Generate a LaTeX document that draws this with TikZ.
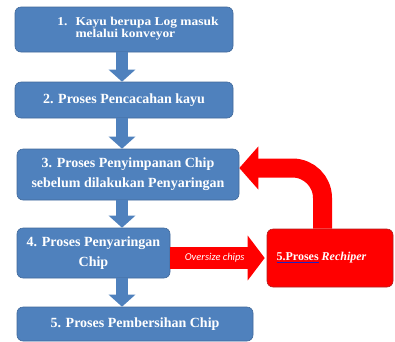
\documentclass[tikz,border=0pt]{standalone}
\usepackage{fontspec}
\setmainfont{Liberation Serif}
\newfontfamily\widefont[FakeStretch=1.12]{Liberation Serif}
\newfontfamily\calibri{Carlito}
\usetikzlibrary{arrows.meta,positioning}

\definecolor{boxblue}{HTML}{4F81BD}
\definecolor{boxblueline}{HTML}{41699A}
\definecolor{boxred}{HTML}{FF0000}
\definecolor{boxredline}{HTML}{B02020}
\definecolor{squiggle}{HTML}{2020C0}

\begin{document}
\begin{tikzpicture}[x=1pt, y=-1pt]
\tikzset{
    mybox/.style={rectangle, rounded corners=6pt, draw=boxblueline, fill=boxblue, line width=0.6pt, text=white, font=\bfseries\fontsize{14}{20}\selectfont, align=center, inner sep=0pt},
    myredbox/.style={mybox, draw=boxredline, fill=boxred, font=\bfseries\fontsize{12}{14}\selectfont},
    myarrow/.style={-{Triangle[length=12pt, width=26pt]}, line width=12pt, draw=boxblue},
    myredarrow/.style={line width=#1, draw=boxred},
    mylabel/.style={text=white, font=\calibri\itshape\fontsize{10.5}{12}\selectfont}
}
\useasboundingbox (0,0) rectangle (395,341);

\node[mybox, minimum width=218pt, minimum height=45pt, font=\widefont\bfseries\fontsize{12}{12}\selectfont] (kayu) at (124,29.5)
    {\hspace*{28pt}\begin{tabular}{@{}l@{\hspace{8pt}}l@{}}1. & Kayu berupa Log masuk\\ & melalui konveyor\end{tabular}};
\node[mybox, minimum width=218pt, minimum height=36pt] (cacah) at (124,100) {2. Proses Pencacahan kayu};
\node[mybox, minimum width=222pt, minimum height=51pt] (simpan) at (128,174.5) {3. Proses Penyimpanan Chip\\sebelum dilakukan Penyaringan};
\node[mybox, minimum width=153pt, minimum height=50pt] (saring) at (93.5,253) {4. Proses Penyaringan\\Chip};
\node[mybox, minimum width=236pt, minimum height=34pt] (bersih) at (135,324) {5. Proses Pembersihan Chip};
\node[myredbox, minimum width=126pt, minimum height=58pt] (rechip) at (330,258)
    {{\color{squiggle}\underline{\textcolor{white}{5.Proses}}} \textit{Rechiper}\hspace*{17pt}};

% arrows down the column
\coordinate (axis) at (122,0);
\draw[myarrow] (axis |- kayu.south) -- (axis |- cacah.north);
\draw[myarrow] (axis |- cacah.south) -- (axis |- simpan.north);
\draw[myarrow] (axis |- simpan.south) -- (axis |- saring.north);
\draw[myarrow] (axis |- saring.south) -- (axis |- bersih.north);

% oversize chips go to the rechiper
\draw[myredarrow=22pt, -{Triangle[length=17pt, width=44pt]}]
    (saring.east |- rechip.west) -- ([xshift=-2pt]rechip.west)
    node[pos=0.47, mylabel] {Oversize chips};

% and back to the storage
\coordinate (bend) at (322.5,168);
\draw[myredarrow=19pt, rounded corners=30pt, -{Triangle[length=19pt, width=42pt]}]
    (rechip.north -| bend) -- (bend) -- (simpan.east |- bend);
\end{tikzpicture}
\end{document}
